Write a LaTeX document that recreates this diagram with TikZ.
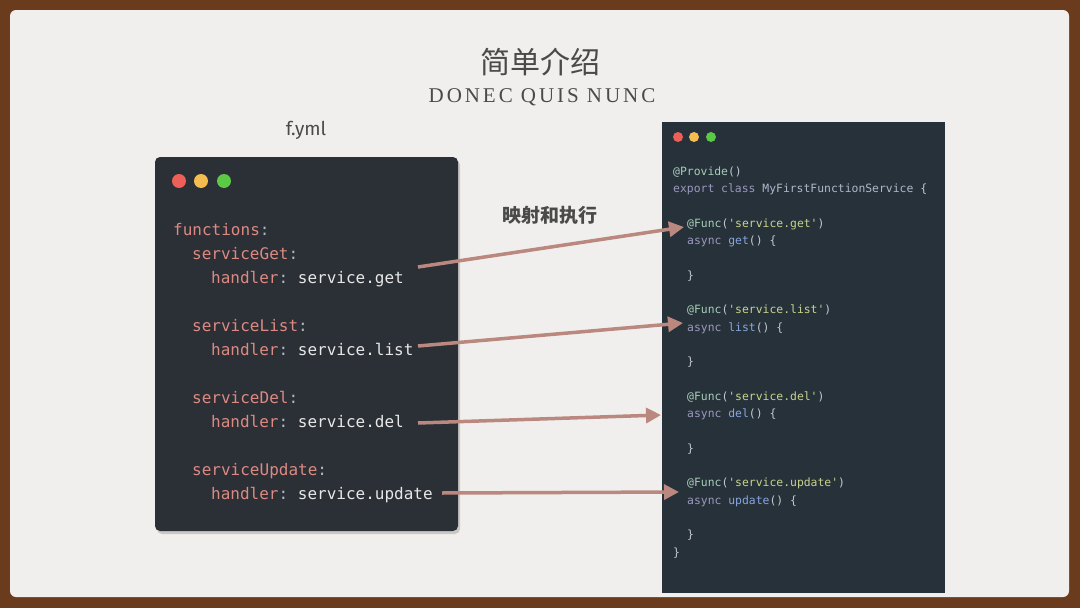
\documentclass[tikz,border=0pt]{standalone}
\usepackage{fontspec}
\usetikzlibrary{arrows.meta,shadows}
\frenchspacing
\newfontfamily\cjk{Noto Sans CJK SC}
\newfontfamily\codefont{DejaVu Sans Mono}
\newfontfamily\capsfont[LetterSpace=14]{Liberation Serif}
\newfontfamily\labelfont{Fira Sans}
\definecolor{brownbg}{HTML}{6B3B1D}
\definecolor{panel}{HTML}{F0EFED}
\definecolor{lbox}{HTML}{2B2F36}
\definecolor{rbox}{HTML}{27313A}
\definecolor{dred}{HTML}{EE5F57}
\definecolor{dyel}{HTML}{F5BD4F}
\definecolor{dgrn}{HTML}{5BC945}
\definecolor{ykey}{HTML}{DC8A82}
\definecolor{yval}{HTML}{E8E8E8}
\definecolor{ycol}{HTML}{AEB6C0}
\definecolor{arrowc}{HTML}{BA887E}
\definecolor{titlec}{HTML}{4A4A4A}
\definecolor{cdeco}{HTML}{A6CDB6}
\definecolor{cstr}{HTML}{C8D48C}
\definecolor{ckw}{HTML}{9C98BE}
\definecolor{cfn}{HTML}{86A6E0}
\definecolor{cpl}{HTML}{C4C8D0}
\definecolor{ccls}{HTML}{AEB8CC}
\newcommand\Yk[1]{\textcolor{ykey}{#1}}
\newcommand\Yv[1]{\textcolor{yval}{#1}}
\newcommand\Yc[1]{\textcolor{ycol}{#1}}
\newcommand\Rd[1]{\textcolor{cdeco}{#1}}
\newcommand\Rs[1]{\textcolor{cstr}{#1}}
\newcommand\Rk[1]{\textcolor{ckw}{#1}}
\newcommand\Rf[1]{\textcolor{cfn}{#1}}
\newcommand\Rp[1]{\textcolor{cpl}{#1}}
\newcommand\Rc[1]{\textcolor{ccls}{#1}}
\begin{document}
\begin{tikzpicture}[x=1pt,y=-1pt,
  lcode/.style={anchor=base west, inner sep=0pt, font=\frenchspacing\codefont\fontsize{16}{16}\selectfont},
  rcode/.style={anchor=base west, inner sep=0pt, font=\frenchspacing\codefont\fontsize{11.4}{11.4}\selectfont},
  maparrow/.style={draw=arrowc, line width=3.5pt, -{Triangle[length=15pt,width=15pt]}},
  dot/.style={circle, inner sep=0pt, minimum size=#1}]
\useasboundingbox (0,0) rectangle (1080,608);
% background and panel
\fill[brownbg] (0,0) rectangle (1080,608);
\fill[panel, rounded corners=6pt] (10,10) rectangle (1069,597);
% titles
\node[font=\cjk\fontsize{30}{30}\selectfont, text=titlec] (title) at (540,62) {简单介绍};
\node[font=\capsfont\fontsize{21}{21}\selectfont, text=titlec] (sub) at (542,97) {DONEC QUIS NUNC};
\node[font=\labelfont\fontsize{19}{19}\selectfont, text=titlec] (fyml) at (306,130) {f.yml};
\node[font=\cjk\bfseries\fontsize{19}{19}\selectfont, text=titlec] (maplbl) at (550,215) {映射和执行};
% left box
\fill[lbox, rounded corners=5pt, drop shadow={opacity=0.35, shadow xshift=2pt, shadow yshift=-3pt}] (155,157) rectangle (458,531);
\node[dot=14pt, fill=dred] (ld1) at (179,181) {};
\node[dot=14pt, fill=dyel] (ld2) at (201,181) {};
\node[dot=14pt, fill=dgrn] (ld3) at (224,181) {};
\node[lcode] (lfun) at (173,235) {\Yk{functions}\Yc{:}};
\node[lcode] (lget) at (192,259) {\Yk{serviceGet}\Yc{:}};
\node[lcode] (hget) at (211,283) {\Yk{handler}\Yc{:} \Yv{service.get}};
\node[lcode] (llist) at (192,331) {\Yk{serviceList}\Yc{:}};
\node[lcode] (hlist) at (211,355) {\Yk{handler}\Yc{:} \Yv{service.list}};
\node[lcode] (ldel) at (192,403) {\Yk{serviceDel}\Yc{:}};
\node[lcode] (hdel) at (211,427) {\Yk{handler}\Yc{:} \Yv{service.del}};
\node[lcode] (lupd) at (192,475) {\Yk{serviceUpdate}\Yc{:}};
\node[lcode] (hupd) at (211,499) {\Yk{handler}\Yc{:} \Yv{service.update}};
% right box
\fill[rbox] (662,122) rectangle (945,593);
\node[dot=10pt, fill=dred] (rd1) at (678,137) {};
\node[dot=10pt, fill=dyel] (rd2) at (694,137) {};
\node[dot=10pt, fill=dgrn] (rd3) at (711,137) {};
\node[rcode] (r0) at (673,175) {\Rd{@Provide}\Rp{()}};
\node[rcode] (r1) at (673,192.3) {\Rk{export class} \Rc{MyFirstFunctionService} \Rp{\{}};
\node[rcode] (fget) at (687,227) {\Rd{@Func}\Rp{(}\Rs{'service.get'}\Rp{)}};
\node[rcode] (aget) at (687,244.3) {\Rk{async} \Rf{get}\Rp{() \{}};
\node[rcode] (cget) at (687,279) {\Rp{\}}};
\node[rcode] (flist) at (687,313.6) {\Rd{@Func}\Rp{(}\Rs{'service.list'}\Rp{)}};
\node[rcode] (alist) at (687,331) {\Rk{async} \Rf{list}\Rp{() \{}};
\node[rcode] (clist) at (687,365.6) {\Rp{\}}};
\node[rcode] (fdel) at (687,400) {\Rd{@Func}\Rp{(}\Rs{'service.del'}\Rp{)}};
\node[rcode] (adel) at (687,417.5) {\Rk{async} \Rf{del}\Rp{() \{}};
\node[rcode] (cdel) at (687,452) {\Rp{\}}};
\node[rcode] (fupd) at (687,486.5) {\Rd{@Func}\Rp{(}\Rs{'service.update'}\Rp{)}};
\node[rcode] (aupd) at (687,504) {\Rk{async} \Rf{update}\Rp{() \{}};
\node[rcode] (cupd) at (687,538.5) {\Rp{\}}};
\node[rcode] (cend) at (673,556) {\Rp{\}}};
% arrow end points
\coordinate (s1) at (418,267); \coordinate (e1) at (684,227);
\coordinate (s2) at (418,346); \coordinate (e2) at (683,323);
\coordinate (s3) at (418,423); \coordinate (e3) at (661,415);
\coordinate (s4) at (442,493); \coordinate (e4) at (679,492);
\draw[maparrow] (s1) -- (e1);
\draw[maparrow] (s2) -- (e2);
\draw[maparrow] (s3) -- (e3);
\draw[maparrow] (s4) -- (e4);
\end{tikzpicture}
\end{document}
